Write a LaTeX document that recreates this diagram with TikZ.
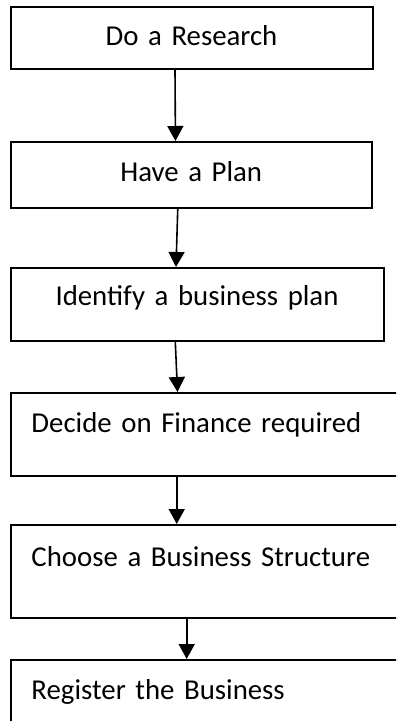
\documentclass[tikz,border=0pt]{standalone}
\usepackage{fontspec}
\setmainfont[WordSpace=0.85]{Carlito}
\usetikzlibrary{arrows.meta}

\tikzset{
	stepbox/.style={draw=black, line width=1pt, anchor=north west, inner ysep=0pt,
		font=\fontsize{14.4}{17.3}\selectfont},
	midbox/.style={stepbox, inner xsep=0pt, align=center},
	leftbox/.style={stepbox, inner xsep=10.5pt, align=left, text width=189pt},
	flow/.style={line width=0.8pt, -{Triangle[width=8pt,length=7.5pt]}}
}

\begin{document}
\begin{tikzpicture}[x=0.5pt,y=-0.5pt]
		\useasboundingbox (0,0) rectangle (396,721);
		\clip (0,0) rectangle (396,721);
	
		\node[midbox, text width=181pt, text height=19.5pt, text depth=11.5pt] (research) at (9.5,6) {Do a Research};
		\node[midbox, text width=180.75pt, text height=20pt, text depth=13pt] (plan) at (9.5,141) {Have a Plan};
		\node[midbox, text width=186.5pt, text height=19pt, text depth=17.5pt] (identify) at (9.5,267) {Identify a business plan};
		
		\node[leftbox, text height=19.5pt, text depth=22pt] (finance) at (9.5,392) {Decide on Finance required};
		\node[leftbox, text height=20.5pt, text depth=26pt] (structure) at (9.5,524) {Choose a Business Structure};
		\node[leftbox, text height=19.5pt, text depth=41pt] (register) at (9.5,659) {Register the Business};
		
		\draw[flow] ([xshift=-8.25pt]research.south) -- ([xshift=-7.9pt]plan.north);
		\draw[flow] ([xshift=-6.75pt]plan.south) -- ([xshift=-10.5pt]identify.north);
		\draw[flow] ([xshift=-10.85pt]identify.south) -- ([xshift=-21.5pt]finance.north);
		\draw[flow] ([xshift=-21.9pt]finance.south) -- ([xshift=-21.9pt]structure.north);
		\draw[flow] ([xshift=-16.9pt]structure.south) -- ([xshift=-16.9pt]register.north);
	\end{tikzpicture}
\end{document}
